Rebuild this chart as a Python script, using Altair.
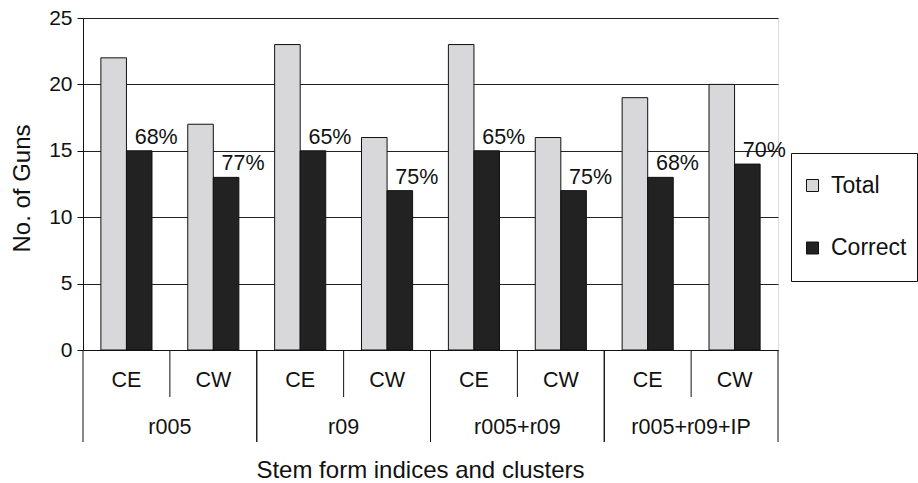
import altair as alt
import pandas as pd

# Gun counts per stem-form index set and cluster
groups = ["r005", "r005", "r09", "r09", "r005+r09", "r005+r09", "r005+r09+IP", "r005+r09+IP"]
clusters = ["CE", "CW", "CE", "CW", "CE", "CW", "CE", "CW"]
totals = [22, 17, 23, 16, 23, 16, 19, 20]
correct = [15, 13, 15, 12, 15, 12, 13, 14]
pct_labels = ["68%", "77%", "65%", "75%", "65%", "75%", "68%", "70%"]
series = ["Total", "Correct"]

FONT = "Liberation Sans"
keys = [f"{g}|{c}" for g, c in zip(groups, clusters)]

base_df = pd.DataFrame({
    "group": groups, "cluster": clusters, "key": keys,
    "Total": totals, "Correct": correct, "pct": pct_labels,
})
bars_df = base_df.melt(id_vars=["group", "cluster", "key"], value_vars=series,
                       var_name="series", value_name="guns")

x_scale = alt.Scale(domain=keys, paddingInner=0, paddingOuter=0)
offset_scale = alt.Scale(domain=series, paddingInner=0, paddingOuter=0.7)
y_scale = alt.Scale(domain=[0, 25])

x_axis = alt.Axis(
    title="Stem form indices and clusters",
    labelExpr="split(datum.label, '|')[1]",
    labelFont=FONT, labelFontSize=21.5, labelColor="#111",
    labelAngle=0, labelPadding=30, labelBaseline="middle",
    ticks=False, domainColor="#111",
    titleFont=FONT, titleFontSize=24, titleFontWeight="normal", titleColor="#111",
    titleX=337, titleY=127, titleBaseline="alphabetic", titleAlign="center",
)

y_axis = alt.Axis(
    title="No. of Guns", values=[0, 5, 10, 15, 20, 25],
    grid=True, gridColor="#222", gridWidth=1,
    domainColor="#111", tickColor="#111", tickSize=6,
    labelFont=FONT, labelFontSize=21, labelColor="#111", labelPadding=5,
    titleFont=FONT, titleFontSize=24, titleFontWeight="normal", titleColor="#111",
    titleX=-54, titleY=170, titleBaseline="alphabetic", titleAlign="center",
)

bars = alt.Chart(bars_df).mark_bar(stroke="#111", strokeWidth=1).encode(
    x=alt.X("key:N", scale=x_scale, axis=x_axis),
    xOffset=alt.XOffset("series:N", scale=offset_scale),
    y=alt.Y("guns:Q", scale=y_scale, axis=y_axis),
    color=alt.Color(
        "series:N",
        scale=alt.Scale(domain=series, range=["#d8d8da", "#222222"]),
        legend=alt.Legend(
            title=None, orient="none", legendX=708, legendY=135,
            fillColor="white", strokeColor="#111", padding=10,
            symbolType="square", symbolSize=144, symbolStrokeColor="#111",
            symbolStrokeWidth=1, labelFont=FONT, labelFontSize=23,
            labelColor="#111", labelOffset=7, rowPadding=17.5, clipHeight=45,
        ),
    ),
)

pct_text = alt.Chart(base_df).mark_text(
    font=FONT, fontSize=21.5, color="#111", baseline="alphabetic", dx=17, dy=-7
).encode(
    x=alt.X("key:N", scale=x_scale, axis=x_axis),
    xOffset=alt.XOffset("s:N", scale=offset_scale),
    y=alt.Y("Correct:Q", scale=y_scale, axis=y_axis),
    text="pct:N",
).transform_calculate(s="'Correct'")

# separators below the axis: short ones between clusters, long ones between index sets
short_rules = alt.Chart(base_df).transform_filter("datum.cluster == 'CW'").mark_rule(
    color="#111", strokeWidth=1
).encode(
    x=alt.X("key:N", bandPosition=0, scale=x_scale, axis=x_axis),
    y=alt.value(332), y2=alt.value(379),
)
long_rules_left = alt.Chart(base_df).transform_filter("datum.cluster == 'CE'").mark_rule(
    color="#111", strokeWidth=1
).encode(
    x=alt.X("key:N", bandPosition=0, scale=x_scale, axis=x_axis),
    y=alt.value(332), y2=alt.value(424),
)
long_rules_right = alt.Chart(base_df).transform_filter("datum.cluster == 'CW'").mark_rule(
    color="#111", strokeWidth=1
).encode(
    x=alt.X("key:N", bandPosition=1, scale=x_scale, axis=x_axis),
    y=alt.value(332), y2=alt.value(424),
)
group_text = alt.Chart(base_df).transform_filter("datum.cluster == 'CE'").mark_text(
    font=FONT, fontSize=21.5, color="#111", baseline="middle"
).encode(
    x=alt.X("key:N", bandPosition=1, scale=x_scale, axis=x_axis),
    y=alt.value(410),
    text="group:N",
)

chart = alt.layer(
    bars, pct_text, short_rules, long_rules_left, long_rules_right, group_text
).properties(
    width=695, height=332,
    padding={"left": 83, "top": 18, "right": 140, "bottom": 133},
    autosize=alt.AutoSizeParams(type="none"),
).configure_view(stroke="#111", strokeWidth=1).configure(background="white")

chart.save("out.html", embed_options={"renderer": "svg", "actions": False})
